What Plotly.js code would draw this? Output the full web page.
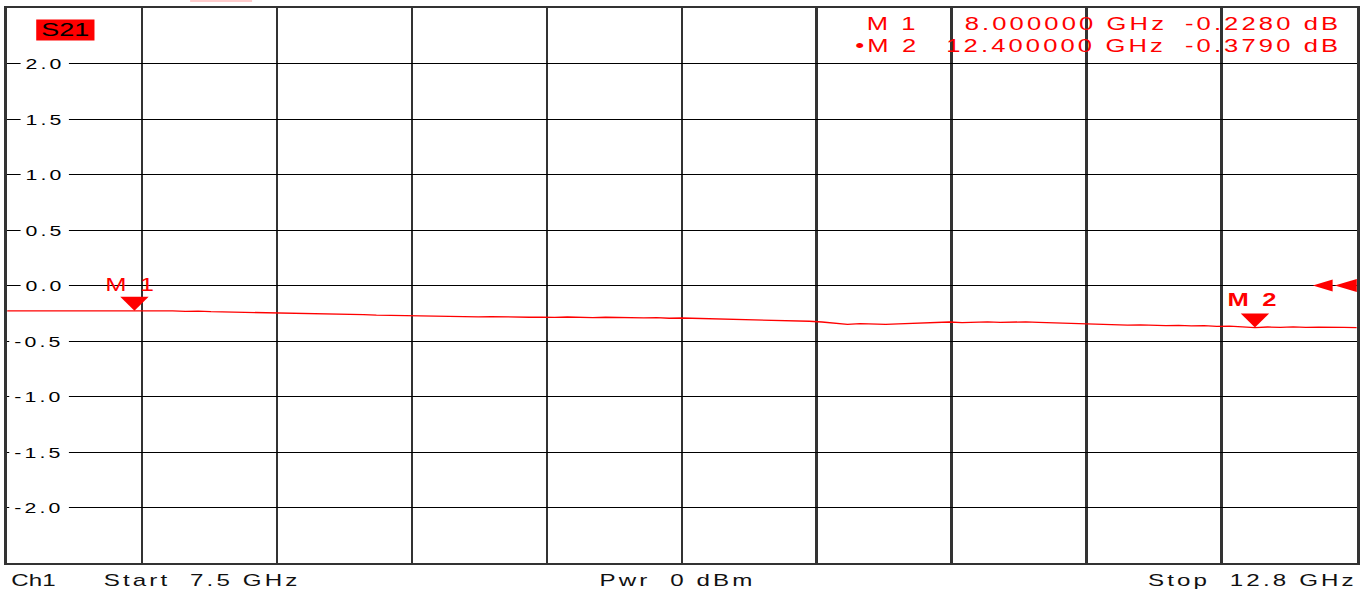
<!DOCTYPE html>
<html>
<head>
<meta charset="utf-8">
<script src="https://cdn.plot.ly/plotly-3.0.1.min.js"></script>
<style>
html, body { margin: 0; padding: 0; overflow: hidden; background: #fff; width: 1371px; height: 594px; }
#chart { width: 965px; height: 594px; transform: scaleX(1.42073); transform-origin: 0 0; }
.annotation-text { letter-spacing: 2.2px; }
</style>
</head>
<body>
<div id="chart"></div>
<script>
// ---- data ----
const freqGHz = [7.50,
  8.00, 8.05, 8.10, 8.15, 8.20, 8.25, 8.30, 8.35, 8.40, 8.45,
  8.50, 8.55, 8.60, 8.65, 8.70, 8.75, 8.80, 8.85, 8.90, 8.95,
  9.00, 9.05, 9.10, 9.15, 9.20, 9.25, 9.30, 9.35, 9.40, 9.45,
  9.50, 9.55, 9.60, 9.65, 9.70, 9.75, 9.80, 9.85, 9.90, 9.95,
  10.00, 10.05, 10.10, 10.15, 10.20, 10.25, 10.30, 10.35, 10.40, 10.45,
  10.50, 10.55, 10.60, 10.65, 10.70, 10.75, 10.80, 10.85, 10.90, 10.95,
  11.00, 11.05, 11.10, 11.15, 11.20, 11.25, 11.30, 11.35, 11.40, 11.45,
  11.50, 11.55, 11.60, 11.65, 11.70, 11.75, 11.80, 11.85, 11.90, 11.95,
  12.00, 12.05, 12.10, 12.15, 12.20, 12.25, 12.30, 12.35, 12.40, 12.45,
  12.50, 12.55, 12.60, 12.65, 12.70, 12.75, 12.80];
const s21dB = [-0.228,
  -0.228, -0.226, -0.229, -0.228, -0.233, -0.231, -0.236, -0.238, -0.237, -0.241,
  -0.244, -0.246, -0.249, -0.250, -0.254, -0.256, -0.255, -0.260, -0.262, -0.266,
  -0.268, -0.275, -0.274, -0.278, -0.276, -0.280, -0.279, -0.282, -0.280, -0.284,
  -0.283, -0.286, -0.285, -0.288, -0.284, -0.287, -0.289, -0.286, -0.290, -0.288,
  -0.292, -0.290, -0.295, -0.293, -0.296, -0.297, -0.299, -0.300, -0.303, -0.305,
  -0.311, -0.313, -0.318, -0.322, -0.329, -0.338, -0.350, -0.344, -0.347, -0.350,
  -0.345, -0.340, -0.336, -0.333, -0.329, -0.335, -0.331, -0.328, -0.333, -0.330,
  -0.327, -0.332, -0.336, -0.339, -0.342, -0.343, -0.349, -0.352, -0.357, -0.354,
  -0.358, -0.361, -0.359, -0.364, -0.362, -0.368, -0.366, -0.371, -0.379, -0.374,
  -0.377, -0.373, -0.378, -0.375, -0.379, -0.377, -0.379];

const markerNames = ['M 1', 'M 2'];
const markerFreqGHz = [8.0, 12.4];
const markerDB = [-0.228, -0.379];
const markerFreqText = ['8.000000 GHz', '12.400000 GHz'];
const markerValText = ['-0.2280 dB', '-0.3790 dB'];

const yTickVals = [2.0, 1.5, 1.0, 0.5, 0.0, -0.5, -1.0, -1.5, -2.0];
const yTickText = ['2.0', '1.5', '1.0', '0.5', '0.0', '-0.5', '-1.0', '-1.5', '-2.0'];

const startGHz = 7.5, stopGHz = 12.8;
const refDivDB = 0.5, refTopDB = 2.5, refBottomDB = -2.5, refLevelDB = 0;
const traceName = 'S21';
const footerTexts = ['Ch1', 'Start  7.5 GHz', 'Pwr  0 dBm', 'Stop  12.8 GHz'];

// ---- chart ----
const FONT = 'Liberation Sans, Arial, sans-serif';
const RED = '#ff0000';
const noSpace = t => '<span style="letter-spacing:0px">' + t + '</span>';

const traces = [{
  x: freqGHz, y: s21dB, type: 'scatter', mode: 'lines',
  line: { color: RED, width: 1.3 }, hoverinfo: 'skip', showlegend: false
}];

const annotations = [];
// y tick labels inside plot
yTickVals.forEach((v, i) => {
  annotations.push({
    xref: 'paper', yref: 'y', x: 0.0465, y: v, xanchor: 'right', yanchor: 'middle',
    text: yTickText[i], showarrow: false, bgcolor: '#ffffff', borderpad: 3,
    font: { family: FONT, size: 15, color: '#000' }
  });
});
// trace name label
annotations.push({
  xref: 'paper', yref: 'paper', x: 0.0215, y: 0.9595, xanchor: 'left', yanchor: 'middle',
  text: noSpace(traceName), showarrow: false, bgcolor: RED, width: 40, height: 20, borderpad: 0,
  font: { family: FONT, size: 19, color: '#000' }
});
// marker readout
const rowY = [0.9712, 0.9315];
markerNames.forEach((n, i) => {
  annotations.push({ xref: 'paper', yref: 'paper', x: 0.6781, y: rowY[i], xanchor: 'right', yanchor: 'middle',
    text: (i === 1 ? '\u2022' : '') + n, showarrow: false, font: { family: FONT, size: 18, color: RED } });
  annotations.push({ xref: 'paper', yref: 'paper', x: 0.8611, y: rowY[i], xanchor: 'right', yanchor: 'middle',
    text: markerFreqText[i], showarrow: false, font: { family: FONT, size: 18, color: RED } });
  annotations.push({ xref: 'paper', yref: 'paper', x: 0.9907, y: rowY[i], xanchor: 'right', yanchor: 'middle',
    text: markerValText[i], showarrow: false, font: { family: FONT, size: 18, color: RED } });
});
// marker labels on trace
markerNames.forEach((n, i) => {
  annotations.push({ xref: 'x', yref: 'y', x: markerFreqGHz[i], y: markerDB[i], xanchor: 'center', yanchor: 'middle',
    xshift: i === 0 ? -2 : -1, yshift: i === 0 ? 26 : 28, text: i === 1 ? '<b>' + n + '</b>' : n, showarrow: false,
    font: { family: FONT, size: 18, color: RED } });
});
// footer
const footerX = [0.0011, 0.0693, 0.4367, 1.0019];
const footerAnchor = ['left', 'left', 'left', 'right'];
footerTexts.forEach((t, i) => {
  const txt = t.replace(/ /g, '\u00a0');
  annotations.push({ xref: 'paper', yref: 'paper', x: footerX[i], y: -0.0324, xanchor: footerAnchor[i], yanchor: 'middle',
    text: i === 0 ? noSpace(txt) : txt, showarrow: false, font: { family: FONT, size: 17, color: '#111' } });
});

const shapes = [];
markerFreqGHz.forEach((f, i) => {
  shapes.push({ type: 'path', xref: 'x', yref: 'y', xsizemode: 'pixel', ysizemode: 'pixel',
    xanchor: f, yanchor: markerDB[i], path: 'M-10,14 L10,14 L0,0 Z',
    fillcolor: RED, line: { width: 0 } });
});
// reference level arrows at right edge
shapes.push({ type: 'path', xref: 'paper', yref: 'y', xsizemode: 'pixel', ysizemode: 'pixel',
  xanchor: 1, yanchor: refLevelDB, path: 'M-31,0 L-17,6 L-17,-6 Z', fillcolor: RED, line: { width: 0 } });
shapes.push({ type: 'path', xref: 'paper', yref: 'y', xsizemode: 'pixel', ysizemode: 'pixel',
  xanchor: 1, yanchor: refLevelDB, path: 'M-15.5,0 L0,6.5 L0,-6.5 Z', fillcolor: RED, line: { width: 0 } });
// small pink strip at top edge
shapes.push({ type: 'rect', xref: 'paper', yref: 'paper', x0: 0.1356, x1: 0.1815, y0: 1.0108, y1: 1.0144,
  fillcolor: '#ffcccc', line: { width: 0 } });

const layout = {
  width: 965, height: 594,
  margin: { l: 5, r: 10, t: 8, b: 31 },
  paper_bgcolor: '#fff', plot_bgcolor: '#fff',
  showlegend: false,
  xaxis: {
    range: [startGHz, stopGHz], tick0: startGHz, dtick: (stopGHz - startGHz) / 10,
    showgrid: true, gridcolor: '#333', gridwidth: 2, zeroline: false,
    showticklabels: false, ticks: '', showline: true, mirror: true, linecolor: '#333', linewidth: 2
  },
  yaxis: {
    range: [refBottomDB, refTopDB], tick0: 0, dtick: refDivDB,
    showgrid: true, gridcolor: '#000', gridwidth: 1, zeroline: false,
    showticklabels: false, ticks: '', showline: true, mirror: true, linecolor: '#333', linewidth: 2
  },
  annotations: annotations,
  shapes: shapes
};

Plotly.newPlot('chart', traces, layout, { staticPlot: true, displayModeBar: false });
</script>
</body>
</html>
